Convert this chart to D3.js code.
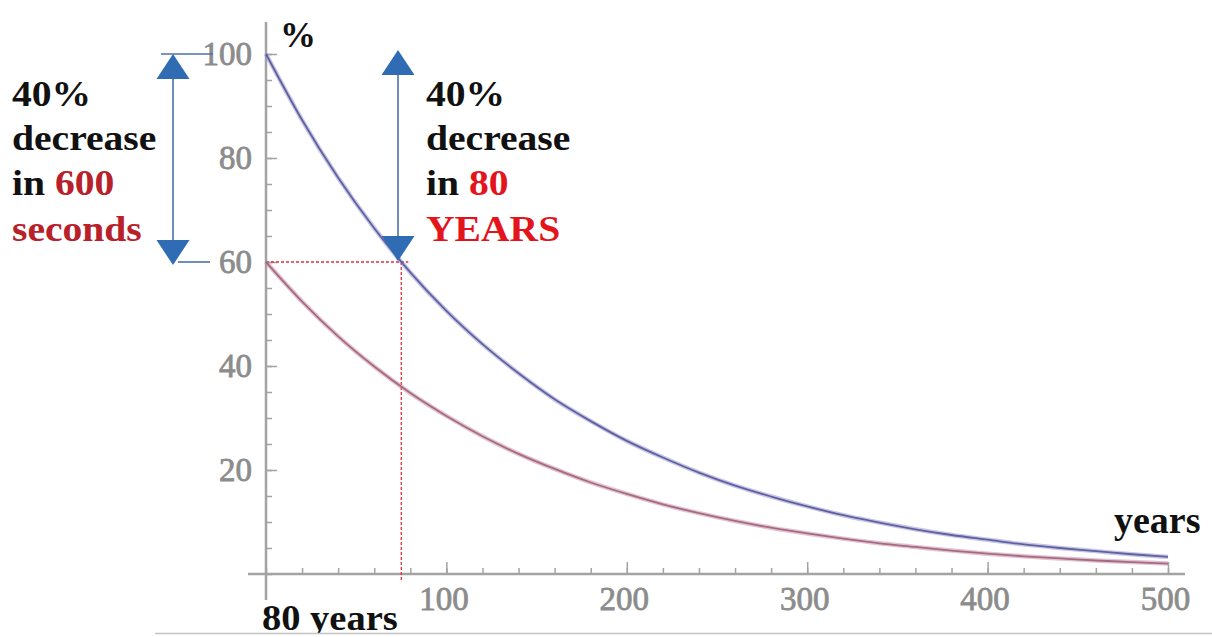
<!DOCTYPE html>
<html>
<head>
<meta charset="utf-8">
<script src="https://cdn.jsdelivr.net/npm/d3@7/dist/d3.min.js"></script>
<style>
  html, body { margin: 0; padding: 0; background: #ffffff; }
  svg { display: block; }
</style>
</head>
<body>
<svg id="chart" width="1212" height="637"></svg>
<script>
// ---------------- data ----------------
const years = [0, 20, 40, 60, 80, 100, 120, 140, 160, 180, 200, 220, 240, 260, 280, 300, 320, 340, 360, 380, 400, 420, 440, 460, 480, 500];
const blueSeries = [100, 87.3, 76.2, 66.5, 58.0, 50.6, 44.2, 38.6, 33.6, 29.4, 25.6, 22.4, 19.5, 17.0, 14.9, 13.0, 11.3, 9.9, 8.6, 7.5, 6.6, 5.7, 5.0, 4.4, 3.8, 3.3];
const pinkSeries = [60, 52.4, 45.7, 39.9, 34.8, 30.4, 26.5, 23.1, 20.2, 17.6, 15.4, 13.4, 11.7, 10.2, 8.9, 7.8, 6.8, 5.9, 5.2, 4.5, 3.9, 3.4, 3.0, 2.6, 2.3, 2.0];
const xTickLabels = [100, 200, 300, 400, 500];
const yTickLabels = [20, 40, 60, 80, 100];
const xMinorTicks = d3.range(0, 501, 20);
const yMinorTicks = d3.range(0, 101, 5);
const markerYear = 75;      // where the dashed guide crosses the axis
const markerValue = 60;     // 40% decrease level
const startValue = 100;
const leftNote = [["40%", ""], ["decrease", ""], ["in ", "600"], ["", "seconds"]];
const rightNote = [["40%", ""], ["decrease", ""], ["in ", "80"], ["", "YEARS"]];

// ---------------- layout ----------------
const svg = d3.select("#chart");
const x = d3.scaleLinear().domain([0, 500]).range([266, 1168]);
const y = d3.scaleLinear().domain([0, 100]).range([574, 54]);

const axisColor = "#a3a3a3";
const tickTextColor = "#8c8c8c";
const serif = "'Liberation Serif', 'Times New Roman', serif";

svg.append("rect").attr("width", 1212).attr("height", 637).attr("fill", "#fff");

// axis lines
svg.append("line").attr("x1", x(0)).attr("x2", x(0)).attr("y1", 22).attr("y2", 600)
  .attr("stroke", axisColor).attr("stroke-width", 2.5);
svg.append("line").attr("x1", 248).attr("x2", 1185).attr("y1", y(0)).attr("y2", y(0))
  .attr("stroke", axisColor).attr("stroke-width", 2.5);

// minor ticks
const gx = svg.append("g").attr("transform", `translate(0,${y(0)})`);
gx.call(d3.axisBottom(x).tickValues(xMinorTicks).tickSize(-6).tickFormat(""));
gx.select(".domain").remove();
gx.selectAll(".tick line").attr("stroke", axisColor).attr("stroke-width", 1.5);

const gy = svg.append("g").attr("transform", `translate(${x(0)},0)`);
gy.call(d3.axisLeft(y).tickValues(yMinorTicks).tickSize(-6).tickFormat(""));
gy.select(".domain").remove();
gy.selectAll(".tick line").attr("stroke", axisColor).attr("stroke-width", 1.5);

// major ticks + labels
const gxM = svg.append("g").attr("transform", `translate(0,${y(0)})`);
gxM.call(d3.axisBottom(x).tickValues(xTickLabels).tickSize(-12).tickPadding(13).tickFormat(d3.format("d")));
gxM.select(".domain").remove();
gxM.selectAll(".tick line").attr("stroke", axisColor).attr("stroke-width", 1.5);
gxM.selectAll(".tick text").attr("font-family", serif).attr("font-size", 33)
  .attr("fill", tickTextColor).attr("stroke", tickTextColor).attr("stroke-width", 0.8)
  .attr("dx", -3);

const gyM = svg.append("g").attr("transform", `translate(${x(0)},0)`);
gyM.call(d3.axisLeft(y).tickValues(yTickLabels).tickSize(-11).tickPadding(14).tickFormat(d3.format("d")));
gyM.select(".domain").remove();
gyM.selectAll(".tick line").attr("stroke", axisColor).attr("stroke-width", 1.5);
gyM.selectAll(".tick text").attr("font-family", serif).attr("font-size", 33)
  .attr("fill", tickTextColor).attr("stroke", tickTextColor).attr("stroke-width", 0.8);

// dashed guides
svg.append("line").attr("x1", x(0)).attr("x2", x(markerYear) + 7)
  .attr("y1", y(markerValue)).attr("y2", y(markerValue))
  .attr("stroke", "#e0303c").attr("stroke-width", 1.3).attr("stroke-dasharray", "3,2");
svg.append("line").attr("x1", x(markerYear)).attr("x2", x(markerYear))
  .attr("y1", y(markerValue)).attr("y2", 581)
  .attr("stroke", "#e0303c").attr("stroke-width", 1.3).attr("stroke-dasharray", "3,2");

// curves
const line = d3.line().x((d, i) => x(years[i])).y(d => y(d)).curve(d3.curveMonotoneX);
svg.append("path").datum(pinkSeries).attr("d", line).attr("fill", "none")
  .attr("stroke", "#c58aa2").attr("stroke-width", 4.5).attr("opacity", 0.5);
svg.append("path").datum(pinkSeries).attr("d", line).attr("fill", "none")
  .attr("stroke", "#a0607a").attr("stroke-width", 1.8).attr("opacity", 0.9);
svg.append("path").datum(blueSeries).attr("d", line).attr("fill", "none")
  .attr("stroke", "#8f8fcc").attr("stroke-width", 4.5).attr("opacity", 0.5);
svg.append("path").datum(blueSeries).attr("d", line).attr("fill", "none")
  .attr("stroke", "#55559a").attr("stroke-width", 1.8).attr("opacity", 0.9);

// double arrows
const arrowBlue = "#2f6cb3";
function doubleArrow(cx, yTop, yBot) {
  const g = svg.append("g");
  g.append("line").attr("x1", cx).attr("x2", cx).attr("y1", yTop + 20).attr("y2", yBot - 20)
    .attr("stroke", "#4a72a8").attr("stroke-width", 1.6);
  g.append("path").attr("d", `M${cx},${yTop} L${cx - 16.5},${yTop + 25} L${cx + 16.5},${yTop + 25} Z`).attr("fill", arrowBlue);
  g.append("path").attr("d", `M${cx},${yBot} L${cx - 16.5},${yBot - 25} L${cx + 16.5},${yBot - 25} Z`).attr("fill", arrowBlue);
}
doubleArrow(173, y(startValue), y(markerValue) + 3);
doubleArrow(398, y(startValue) - 4, y(markerValue) - 1);
svg.append("line").attr("x1", 161).attr("x2", 213).attr("y1", y(startValue)).attr("y2", y(startValue))
  .attr("stroke", "#4a72a8").attr("stroke-width", 1.6);
svg.append("line").attr("x1", 178).attr("x2", 210).attr("y1", y(markerValue)).attr("y2", y(markerValue))
  .attr("stroke", "#4a72a8").attr("stroke-width", 1.6);

// notes
function note(lines, x0, redColor) {
  const baselines = [106, 150, 195, 241];
  lines.forEach((pair, i) => {
    const t = svg.append("text")
      .attr("transform", `translate(${x0},${baselines[i]}) scale(1.1,1)`)
      .attr("font-family", serif).attr("font-weight", "bold").attr("font-size", 36);
    if (pair[0]) t.append("tspan").attr("fill", "#111").text(pair[0]);
    if (pair[1]) t.append("tspan").attr("fill", redColor).text(pair[1]);
  });
}
note(leftNote, 12, "#b8202a");
note(rightNote, 426, "#e3141c");

// axis captions
svg.append("text").attr("x", 280).attr("y", 47).attr("font-family", serif).attr("font-weight", "bold")
  .attr("font-size", 36).attr("fill", "#111").text("%");
svg.append("text").attr("x", 1114).attr("y", 533).attr("font-family", serif).attr("font-weight", "bold")
  .attr("font-size", 38).attr("fill", "#111").text("years");
svg.append("text").attr("transform", "translate(262,630) scale(1.1,1)").attr("font-family", serif).attr("font-weight", "bold")
  .attr("font-size", 35).attr("fill", "#111").text("80 years");

// bottom frame line
svg.append("rect").attr("x", 0).attr("y", 634).attr("width", 1212).attr("height", 3).attr("fill", "#fff");
svg.append("line").attr("x1", 155).attr("x2", 1212).attr("y1", 633.5).attr("y2", 633.5)
  .attr("stroke", "#c4c4c4").attr("stroke-width", 1.5);
</script>
</body>
</html>
